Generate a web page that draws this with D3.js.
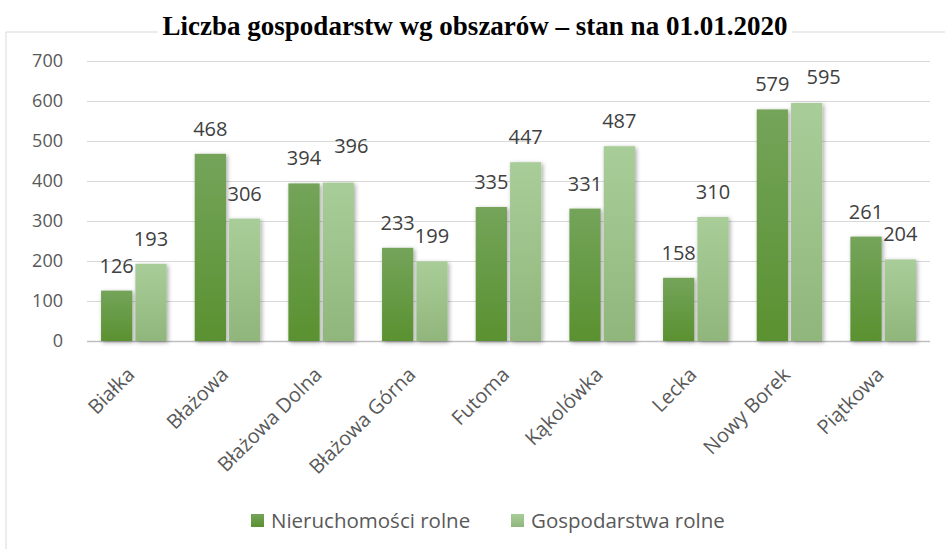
<!DOCTYPE html>
<html>
<head>
<meta charset="utf-8">
<script src="https://cdn.jsdelivr.net/npm/d3@7"></script>
<style>
  body { margin: 0; background: #fff; }
  svg { display: block; }
</style>
</head>
<body>
<div id="chart"></div>
<script>
var categories = ["Białka", "Błażowa", "Błażowa Dolna", "Błażowa Górna", "Futoma", "Kąkolówka", "Lecka", "Nowy Borek", "Piątkowa"];
var nieruchomosci = [126, 468, 394, 233, 335, 331, 158, 579, 261];
var gospodarstwa = [193, 306, 396, 199, 447, 487, 310, 595, 204];
var seriesNames = ["Nieruchomości rolne", "Gospodarstwa rolne"];
var yTicks = [0, 100, 200, 300, 400, 500, 600, 700];

var W = 945, H = 549;
var margin = {top: 61, right: 15, bottom: 208, left: 87},
    width = W - margin.left - margin.right,
    height = H - margin.top - margin.bottom;

var svg = d3.select("#chart").append("svg")
    .attr("width", W).attr("height", H);

var defs = svg.append("defs");
var g1 = defs.append("linearGradient").attr("id", "gDark").attr("x1", 0).attr("y1", 0).attr("x2", 0).attr("y2", 1);
g1.append("stop").attr("offset", "0%").attr("stop-color", "#74a45a");
g1.append("stop").attr("offset", "100%").attr("stop-color", "#5a9130");
var g2 = defs.append("linearGradient").attr("id", "gLight").attr("x1", 0).attr("y1", 0).attr("x2", 0).attr("y2", 1);
g2.append("stop").attr("offset", "0%").attr("stop-color", "#a9cd98");
g2.append("stop").attr("offset", "100%").attr("stop-color", "#90b67c");
var f = defs.append("filter").attr("id", "shadow").attr("x", "-30%").attr("y", "-10%").attr("width", "160%").attr("height", "120%");
f.append("feDropShadow").attr("dx", 1.5).attr("dy", 1.5).attr("stdDeviation", 2).attr("flood-color", "#000").attr("flood-opacity", 0.35);

// outer frame
svg.append("path")
  .attr("d", "M6,549 L6,32 L158,32 M792,32 L945,32")
  .attr("fill", "none").attr("stroke", "#d9d9d9").attr("stroke-width", 1);

svg.append("text")
  .attr("x", 475).attr("y", 35)
  .attr("text-anchor", "middle")
  .attr("font-family", "'Liberation Serif', 'Times New Roman', serif")
  .attr("font-weight", "bold")
  .attr("font-size", "27px")
  .attr("fill", "#000")
  .text("Liczba gospodarstw wg obszarów – stan na 01.01.2020");

var plot = svg.append("g").attr("transform", "translate(" + margin.left + "," + margin.top + ")");

var x = d3.scaleBand().domain(categories).range([0, width]).paddingInner(0.3).paddingOuter(0.15);
var xs = d3.scaleBand().domain(seriesNames).range([0, x.bandwidth()]).paddingInner(0.09);
var y = d3.scaleLinear().domain([0, 700]).range([height, 0]);

// gridlines
plot.append("g").selectAll("line")
  .data(yTicks)
  .enter().append("line")
  .attr("x1", 0).attr("x2", width)
  .attr("y1", function(d){ return y(d) + 0.5; })
  .attr("y2", function(d){ return y(d) + 0.5; })
  .attr("stroke", function(d){ return d === 0 ? "#bfbfbf" : "#d9d9d9"; })
  .attr("stroke-width", function(d){ return d === 0 ? 1.5 : 1; });

// y labels
plot.append("g").selectAll("text")
  .data(yTicks)
  .enter().append("text")
  .attr("x", -24).attr("y", function(d){ return y(d); })
  .attr("dy", "0.36em")
  .attr("text-anchor", "end")
  .attr("font-family", "'Open Sans', sans-serif")
  .attr("font-size", "18px")
  .attr("fill", "#595959")
  .text(function(d){ return d; });

var data = [];
categories.forEach(function(c, i) {
  data.push({cat: c, s: seriesNames[0], v: nieruchomosci[i], other: gospodarstwa[i], fill: "url(#gDark)"});
  data.push({cat: c, s: seriesNames[1], v: gospodarstwa[i], other: nieruchomosci[i], fill: "url(#gLight)"});
});

plot.append("g").selectAll("rect")
  .data(data)
  .enter().append("rect")
  .attr("x", function(d){ return x(d.cat) + xs(d.s); })
  .attr("y", function(d){ return y(d.v); })
  .attr("width", xs.bandwidth())
  .attr("height", function(d){ return height - y(d.v); })
  .attr("fill", function(d){ return d.fill; })
  .attr("filter", "url(#shadow)");

// value labels; the second series label is pushed aside when it would collide
function nudge(d) {
  if (d.s === seriesNames[0]) return {dx: 0, dy: 0};
  var gap = Math.abs(y(d.v) - y(d.other));
  if (d.v >= d.other && gap < 4) return {dx: 13, dy: -12};
  if (d.v >= d.other && gap < 16) return {dx: 17, dy: -1};
  return {dx: 0, dy: 0};
}

plot.append("g").selectAll("text")
  .data(data)
  .enter().append("text")
  .attr("x", function(d){ return x(d.cat) + xs(d.s) + xs.bandwidth() / 2 + nudge(d).dx; })
  .attr("y", function(d){ return y(d.v) - 18 + nudge(d).dy; })
  .attr("text-anchor", "middle")
  .attr("font-family", "'Open Sans', sans-serif")
  .attr("font-size", "20px")
  .attr("fill", "#404040")
  .text(function(d){ return d.v; });

// category labels
plot.append("g").selectAll("text")
  .data(categories)
  .enter().append("text")
  .attr("transform", function(d){ return "translate(" + (x(d) + x.bandwidth() / 2 + 2) + "," + (height + 35) + ") rotate(-45)"; })
  .attr("text-anchor", "end")
  .attr("font-family", "'Open Sans', sans-serif")
  .attr("font-size", "20px")
  .attr("fill", "#595959")
  .text(function(d){ return d; });

// legend
var legend = svg.append("g");
var lx = [251, 511];
seriesNames.forEach(function(s, i) {
  legend.append("rect")
    .attr("x", lx[i]).attr("y", 514).attr("width", 13).attr("height", 13)
    .attr("fill", i === 0 ? "url(#gDark)" : "url(#gLight)");
  legend.append("text")
    .attr("x", lx[i] + 20).attr("y", 528)
    .attr("font-family", "'Open Sans', sans-serif")
    .attr("font-size", "20.5px")
    .attr("fill", "#595959")
    .text(s);
});
</script>
</body>
</html>
